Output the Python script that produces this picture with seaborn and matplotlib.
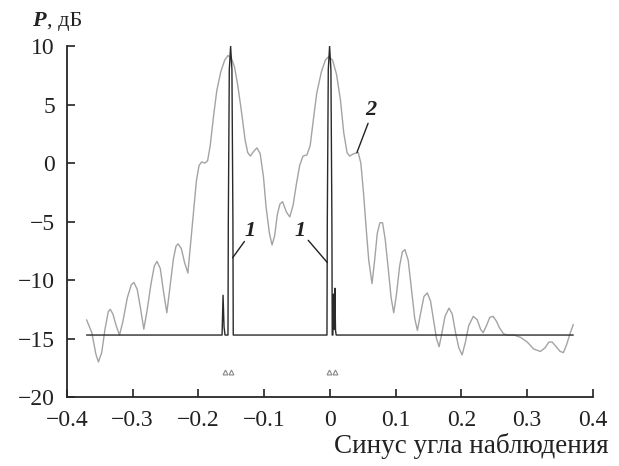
import numpy as np
import pandas as pd
import matplotlib
matplotlib.use("Agg")
import matplotlib.pyplot as plt
import seaborn as sns

# curve 2: broad pattern
x2 = [-0.370, -0.362, -0.356, -0.352, -0.347, -0.342, -0.337, -0.334, -0.330, -0.325,
      -0.320, -0.315, -0.308, -0.302, -0.298, -0.293, -0.288, -0.283, -0.278, -0.272,
      -0.267, -0.263, -0.258, -0.253, -0.248, -0.243, -0.238, -0.234, -0.231, -0.226,
      -0.221, -0.216, -0.212, -0.207, -0.203, -0.199, -0.195, -0.190, -0.186, -0.182,
      -0.177, -0.172, -0.166, -0.160, -0.155, -0.150, -0.145, -0.140, -0.134, -0.129,
      -0.125, -0.121, -0.116, -0.111, -0.106, -0.101, -0.097, -0.092, -0.088, -0.084,
      -0.080, -0.076, -0.072, -0.066, -0.061, -0.056, -0.051, -0.046, -0.041, -0.035,
      -0.030, -0.025, -0.020, -0.013, -0.007, -0.002, 0.004, 0.010, 0.016, 0.021,
      0.026, 0.030, 0.036, 0.043, 0.047, 0.051, 0.055, 0.059, 0.064, 0.068,
      0.072, 0.076, 0.080, 0.084, 0.089, 0.093, 0.097, 0.101, 0.106, 0.110,
      0.114, 0.119, 0.124, 0.129, 0.133, 0.138, 0.143, 0.148, 0.153, 0.158,
      0.162, 0.166, 0.170, 0.175, 0.181, 0.186, 0.191, 0.196, 0.201, 0.206,
      0.211, 0.218, 0.224, 0.229, 0.233, 0.238, 0.243, 0.248, 0.253, 0.258,
      0.264, 0.271, 0.280, 0.290, 0.300, 0.310, 0.320, 0.327, 0.333, 0.338,
      0.344, 0.350, 0.355, 0.360, 0.365, 0.370]
y2 = [-13.4, -14.5, -16.3, -17.0, -16.2, -14.2, -12.7, -12.5, -12.9, -13.9,
      -14.7, -13.6, -11.5, -10.4, -10.2, -10.8, -12.4, -14.2, -12.6, -10.3,
      -8.8, -8.4, -9.0, -11.0, -12.8, -10.5, -8.2, -7.1, -6.9, -7.3,
      -8.5, -9.4, -7.0, -4.0, -1.5, -0.2, 0.1, 0.0, 0.2, 1.5,
      4.0, 6.2, 7.8, 8.8, 9.2, 9.0, 8.2, 6.6, 4.2, 2.0,
      0.9, 0.6, 1.0, 1.3, 0.8, -1.2, -3.8, -6.0, -7.0, -6.2,
      -4.4, -3.5, -3.3, -4.2, -4.6, -3.6, -1.8, -0.2, 0.6, 0.7,
      1.5, 3.8, 6.0, 7.8, 8.8, 9.1, 8.8, 7.6, 5.4, 2.6,
      0.9, 0.6, 0.8, 0.9, 0.0, -2.5, -5.5, -8.3, -10.3, -8.3,
      -6.0, -5.1, -5.1, -6.5, -9.2, -11.5, -12.8, -11.3, -8.8, -7.6,
      -7.4, -8.3, -10.8, -13.3, -14.3, -12.8, -11.4, -11.1, -11.8, -13.6,
      -15.0, -15.7, -14.6, -13.1, -12.4, -12.9, -14.5, -15.8, -16.4, -15.3,
      -13.9, -13.1, -13.4, -14.2, -14.5, -13.9, -13.2, -13.1, -13.5, -14.1,
      -14.6, -14.7, -14.7, -14.9, -15.3, -15.9, -16.1, -15.8, -15.3, -15.3,
      -15.7, -16.1, -16.2, -15.5, -14.6, -13.8]

# curve 1: narrow beams on a floor level
x1 = [-0.370, -0.164, -0.1625, -0.161, -0.1595, -0.1550, -0.1545, -0.1530, -0.151, -0.1490,
      -0.1475, -0.1470, -0.0045, -0.0040, -0.0025, -0.0005, 0.0015, 0.0030, 0.0035, 0.0045,
      0.0055, 0.0065, 0.0075, 0.0085, 0.0095, 0.370]
y1 = [-14.7, -14.7, -11.3, -14.0, -14.7, -14.7, -5.0, 8.0, 10.0, 8.0,
      -5.0, -14.7, -14.7, -5.0, 8.0, 10.0, 8.0, -5.0, -14.7, -14.7,
      -11.2, -14.2, -10.7, -14.3, -14.7, -14.7]

# small triangle marks under the beams
tri_x = [-0.160, -0.151, -0.0015, 0.0075]
tri_y = [-17.9, -17.9, -17.9, -17.9]

xticks = [-0.4, -0.3, -0.2, -0.1, 0, 0.1, 0.2, 0.3, 0.4]
xtick_labels = ["\u22120.4", "\u22120.3", "\u22120.2", "\u22120.1", "0", "0.1", "0.2", "0.3", "0.4"]
yticks = [-20, -15, -10, -5, 0, 5, 10]
ytick_labels = ["\u221220", "\u221215", "\u221210", "\u22125", "0", "5", "10"]

sns.set_theme(style="ticks")
plt.rcParams['font.family'] = ['Liberation Serif', 'DejaVu Serif']
plt.rcParams['axes.linewidth'] = 1.3

fig = plt.figure(figsize=(6.19, 4.66), dpi=100)
ax = fig.add_axes([0.108, 0.148, 0.850, 0.753])

df2 = pd.DataFrame({"x": x2, "y": y2})
df1 = pd.DataFrame({"x": x1, "y": y1})
sns.lineplot(data=df2, x="x", y="y", ax=ax, sort=False, estimator=None,
             color="#a3a3a3", linewidth=1.0)
sns.lineplot(data=df1, x="x", y="y", ax=ax, sort=False, estimator=None,
             color="#2a2a2a", linewidth=1.0)
ax.plot(tri_x, tri_y, linestyle="none", marker="^", markersize=3.5,
        markerfacecolor="none", markeredgecolor="#888888", markeredgewidth=0.8)

ax.set_xlim(-0.4, 0.4)
ax.set_ylim(-20, 10)
ax.set_xticks(xticks)
ax.set_xticklabels(xtick_labels)
ax.set_yticks(yticks)
ax.set_yticklabels(ytick_labels)
ax.tick_params(direction="in", length=6, width=1.2, labelsize=17, colors="#222222")
ax.tick_params(axis="x", pad=9)
ax.tick_params(axis="y", pad=8.5)
sns.despine(ax=ax)
ax.set_xlabel("")
ax.set_ylabel("")

# curve labels with leader lines
ink = "#222222"
lab = dict(fontsize=16, fontstyle="italic", fontweight="bold", ha="center", va="center", color=ink)
ax.plot([-0.148, -0.130], [-8.1, -6.7], color=ink, lw=1.0)
ax.text(-0.122, -5.8, "1", **lab)
ax.plot([-0.004, -0.033], [-8.5, -6.6], color=ink, lw=1.0)
ax.text(-0.046, -5.8, "1", **lab)
ax.plot([0.041, 0.058], [0.9, 3.4], color=ink, lw=1.0)
ax.text(0.062, 4.5, "2", **lab)

# axis titles
fig.text(32 / 619, 1 - 26 / 466, "P", fontsize=16, fontweight="bold", fontstyle="italic",
         ha="left", va="baseline", color=ink)
fig.text(47 / 619, 1 - 26 / 466, ", дБ", fontsize=16, ha="left", va="baseline", color=ink)
fig.text(609 / 619, 1 - 453 / 466, "Синус угла наблюдения", fontsize=19.5,
         ha="right", va="baseline", color=ink)

fig.savefig("out.png", dpi=100)
